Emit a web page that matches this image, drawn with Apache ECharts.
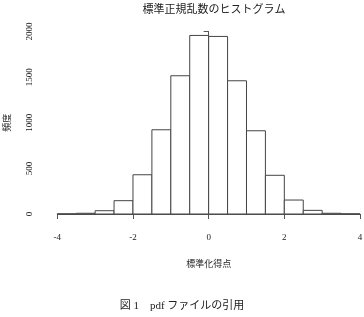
<!DOCTYPE html>
<html><head><meta charset="utf-8">
<script src="https://cdn.jsdelivr.net/npm/echarts@6/dist/echarts.min.js"></script>
<style>html,body{margin:0;padding:0;background:#fff}#c{width:364px;height:317px}</style>
</head><body><div id="c"></div>
<script>
var binStart = [-4, -3.5, -3, -2.5, -2, -1.5, -1, -0.5, 0, 0.5, 1, 1.5, 2, 2.5, 3, 3.5];
var binEnd = [-3.5, -3, -2.5, -2, -1.5, -1, -0.5, 0, 0.5, 1, 1.5, 2, 2.5, 3, 3.5, 4];
var counts = [2, 8, 36, 146, 430, 923, 1515, 1957, 1946, 1460, 912, 424, 153, 40, 8, 2];
var title = '標準正規乱数のヒストグラム';
var xName = '標準化得点';
var yName = '頻度';
var caption = '図 1　pdf ファイルの引用';

var FONT = '"Liberation Serif", "Noto Sans CJK JP", serif';
var data = binStart.map(function (s, i) { return [s, binEnd[i], counts[i]]; });
var chart = echarts.init(document.getElementById('c'), null, {renderer: 'canvas'});
chart.setOption({
  animation: false,
  backgroundColor: '#fff',
  textStyle: {fontFamily: FONT},
  title: {
    text: title, left: 209, top: 0, textAlign: 'center',
    textStyle: {fontFamily: FONT, fontSize: 11, fontWeight: 'normal', color: '#222'}
  },
  grid: {left: 57.3, right: 4, top: 31.5, bottom: 103, containLabel: false, outerBoundsMode: 'none'},
  xAxis: {
    type: 'value', min: -4, max: 4, interval: 2, offset: 8,
    name: xName, nameLocation: 'middle', nameGap: 38,
    nameTextStyle: {fontFamily: FONT, fontSize: 9, color: '#222'},
    axisLine: {show: true, lineStyle: {color: '#555', width: 1}},
    axisTick: {show: true, length: 5, lineStyle: {color: '#555'}},
    axisLabel: {fontFamily: FONT, fontSize: 9, color: '#222', margin: 11, showMinLabel: true, showMaxLabel: true,
      formatter: function (v) { return String(v); }},
    splitLine: {show: false}
  },
  yAxis: {
    type: 'value', min: 0, max: 2000, interval: 500, offset: 12,
    name: yName, nameLocation: 'middle', nameGap: 33, nameRotate: 90,
    nameTextStyle: {fontFamily: FONT, fontSize: 9, color: '#222'},
    axisLine: {show: true, lineStyle: {color: '#555', width: 1}},
    axisTick: {show: true, length: 5, lineStyle: {color: '#555'}},
    axisLabel: {fontFamily: FONT, fontSize: 9, color: '#222', rotate: 90, margin: 11,
      formatter: function (v) { return String(v); }},
    splitLine: {show: false}
  },
  series: [{
    type: 'custom',
    data: data,
    encode: {x: [0, 1], y: 2},
    renderItem: function (params, api) {
      var p0 = api.coord([api.value(0), api.value(2)]);
      var p1 = api.coord([api.value(1), 0]);
      return {
        type: 'rect',
        shape: {x: p0[0], y: p0[1], width: p1[0] - p0[0], height: p1[1] - p0[1]},
        style: {fill: '#fff', stroke: '#444', lineWidth: 1}
      };
    }
  }],
  graphic: [{
    type: 'text', left: 'center', top: 301,
    style: {text: caption, font: '11px ' + FONT, fill: '#222'}
  }]
});
</script></body></html>
